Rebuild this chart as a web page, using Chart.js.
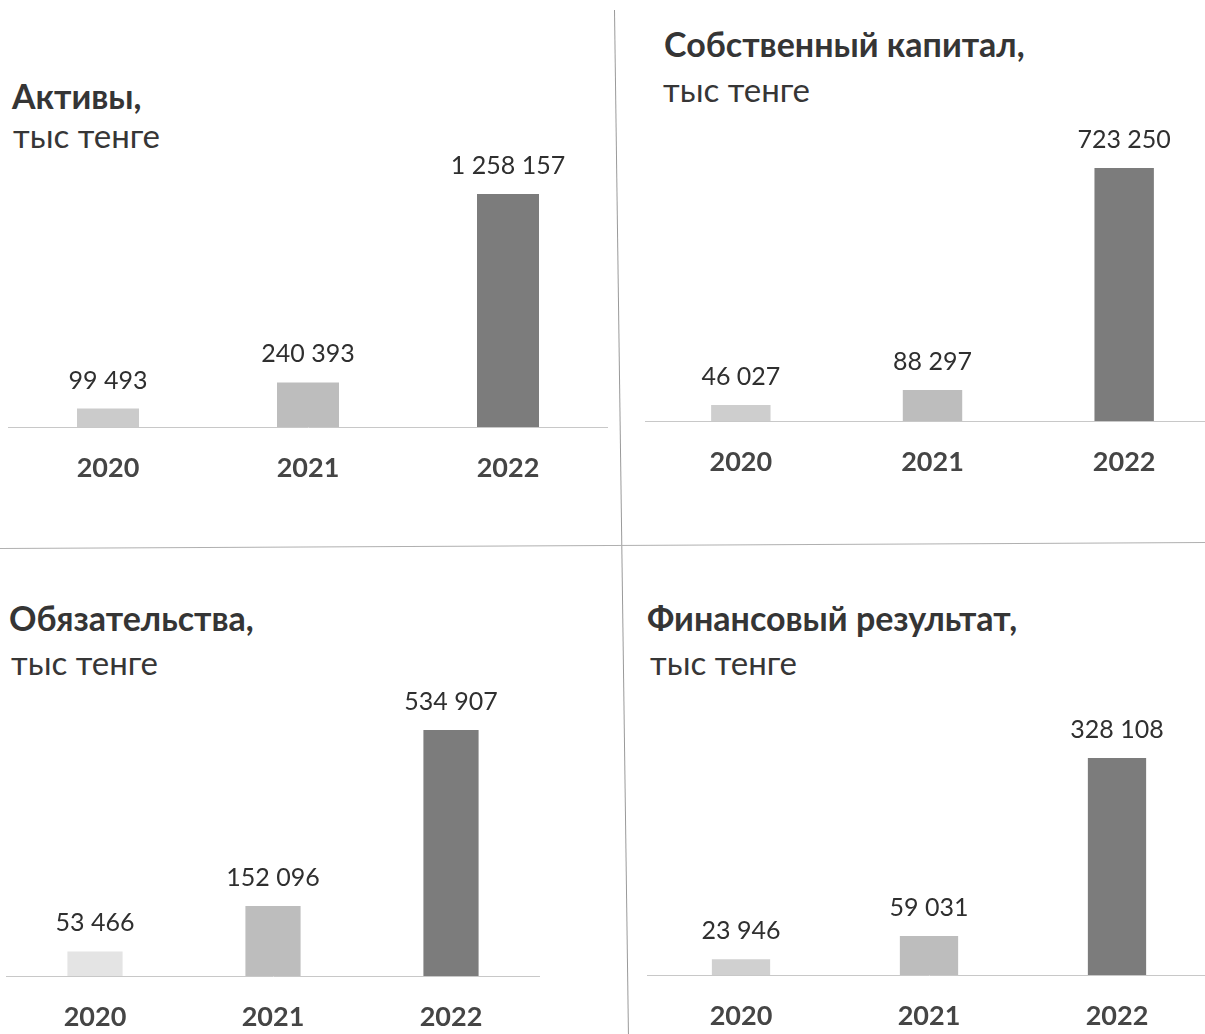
<!DOCTYPE html>
<html lang="ru">
<head>
<meta charset="utf-8">
<title>Финансовые показатели</title>
<script src="https://cdn.jsdelivr.net/npm/chart.js@4.4.1/dist/chart.umd.min.js"></script>
<style>
  html, body { margin: 0; padding: 0; background: #fff; }
  body { width: 1205px; height: 1034px; overflow: hidden; position: relative; font-family: Lato, "Open Sans", sans-serif; }
  .t { position: absolute; white-space: nowrap; line-height: 1.2; }
  .h { font-size: 34px; font-weight: bold; color: #353535; }
  .s { font-size: 33px; color: #363636; }
  canvas { position: absolute; }
  .line { position: absolute; background: #9a9a9a; }
</style>
</head>
<body>

<div class="line" style="left:614px; top:10px; width:1px; height:1030px; transform-origin:0 0; transform:rotate(-0.78deg);"></div>
<div class="line" style="left:0; top:548px; width:1205px; height:1px; background:#b0b0b0; transform-origin:0 0; transform:rotate(-0.285deg);"></div>

<div class="t h" style="left:12px; top:76px;">Активы,</div>
<div class="t s" style="left:13px; top:116px;">тыс тенге</div>
<div class="t h" style="left:664px; top:24px;">Собственный капитал,</div>
<div class="t s" style="left:663px; top:70px;">тыс тенге</div>
<div class="t h" style="left:9px; top:598px;">Обязательства,</div>
<div class="t s" style="left:11px; top:643px;">тыс тенге</div>
<div class="t h" style="left:647px; top:598px;">Финансовый результат,</div>
<div class="t s" style="left:650px; top:643px;">тыс тенге</div>

<canvas id="aktivyChart"></canvas>
<canvas id="kapitalChart"></canvas>
<canvas id="obyazChart"></canvas>
<canvas id="finrezChart"></canvas>

<script>
const years = ['2020', '2021', '2022'];
const aktivy = [99493, 240393, 1258157];
const kapital = [46027, 88297, 723250];
const obyazatelstva = [53466, 152096, 534907];
const finRezultat = [23946, 59031, 328108];

function formatNumber(v) {
  return String(v).replace(/\B(?=(\d{3})+(?!\d))/g, ' ');
}

// подписи значений над столбиками
const valueLabels = {
  id: 'valueLabels',
  afterDatasetsDraw(chart) {
    const ctx = chart.ctx;
    const values = chart.data.datasets[0].data;
    ctx.save();
    ctx.font = '25px Lato, "Open Sans", sans-serif';
    ctx.fillStyle = '#2f2f2f';
    ctx.textAlign = 'center';
    ctx.textBaseline = 'alphabetic';
    chart.getDatasetMeta(0).data.forEach((bar, i) => {
      ctx.fillText(formatNumber(values[i]), bar.x, bar.y - 20);
    });
    ctx.restore();
  }
};

function renderizarPainel(id, values, box, color2020) {
  const canvas = document.getElementById(id);
  canvas.width = box.w;
  canvas.height = box.h;
  canvas.style.left = box.x + 'px';
  canvas.style.top = box.y + 'px';

  new Chart(canvas.getContext('2d'), {
    type: 'bar',
    data: {
      labels: years,
      datasets: [{
        data: values,
        backgroundColor: [color2020, '#bdbdbd', '#7c7c7c'],
        barPercentage: 0.31,
        categoryPercentage: 1
      }]
    },
    options: {
      responsive: false,
      animation: false,
      layout: { padding: { top: 40, left: 0, right: 0, bottom: 0 } },
      plugins: { legend: { display: false }, tooltip: { enabled: false } },
      scales: {
        x: {
          grid: { display: false, drawTicks: false },
          border: { display: true, color: '#c8c8c8', width: 1 },
          ticks: {
            color: '#454545',
            padding: 25,
            font: { family: 'Lato, "Open Sans", sans-serif', size: 27, weight: 'bold' }
          },
          afterFit(scale) { scale.height = 70; }
        },
        y: { display: false, min: 0, max: Math.max(...values) }
      }
    },
    plugins: [valueLabels]
  });
}

renderizarPainel('aktivyChart', aktivy, { x: 8, y: 154, w: 600, h: 343 }, '#cbcbcb');
renderizarPainel('kapitalChart', kapital, { x: 645, y: 128, w: 575, h: 363 }, '#cecece');
renderizarPainel('obyazChart', obyazatelstva, { x: 6, y: 690, w: 534, h: 356 }, '#e4e4e4');
renderizarPainel('finrezChart', finRezultat, { x: 647, y: 718, w: 564, h: 327 }, '#d0d0d0');
</script>
</body>
</html>
